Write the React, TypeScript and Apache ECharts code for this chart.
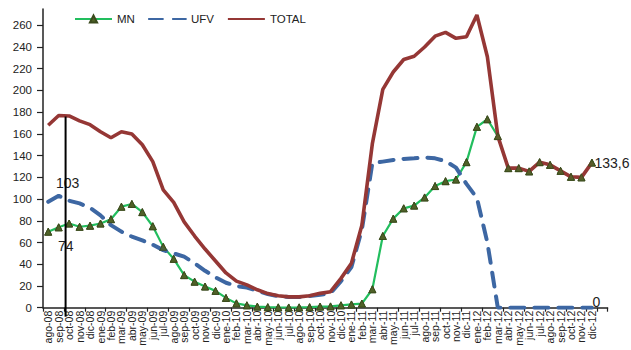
import React, { useEffect, useRef } from "react";
import * as echarts from "echarts";

const categories: string[] = [
  "ago-08", "sep-08", "oct-08", "nov-08", "dic-08",
  "ene-09", "feb-09", "mar-09", "abr-09", "may-09", "jun-09", "jul-09", "ago-09", "sep-09", "oct-09", "nov-09", "dic-09",
  "ene-10", "feb-10", "mar-10", "abr-10", "may-10", "jun-10", "jul-10", "ago-10", "sep-10", "oct-10", "nov-10", "dic-10",
  "ene-11", "feb-11", "mar-11", "abr-11", "may-11", "jun-11", "jul-11", "ago-11", "sep-11", "oct-11", "nov-11", "dic-11",
  "ene-12", "feb-12", "mar-12", "abr-12", "may-12", "jun-12", "jul-12", "ago-12", "sep-12", "oct-12", "nov-12", "dic-12",
  "",
];

const mnValues: number[] = [
  70, 74, 77.5, 74.5, 75.5,
  77.5, 81.5, 93, 95.5, 88, 75, 56, 45, 30, 24, 19.5, 15.5,
  9, 4, 2.2, 1, 0.5, 0.3, 0.2, 0.3, 0.5, 1, 1.2, 2.2,
  3, 3.8, 17, 66, 82, 91.5, 94, 101.5, 112, 116.5, 118, 134,
  166.5, 173.5, 158, 128.5, 128.5, 125.5, 134, 131.5, 126, 120.5, 120, 133.6,
];

const ufvValues: number[] = [
  97.5, 103, 98.5, 96, 92,
  85, 76, 70, 65.5, 62, 58, 53, 50, 47, 41, 34, 28,
  23, 20, 18.5, 15.5, 12.5, 10.5, 9.8, 9.8, 10.8, 11.8, 13.3, 24.5,
  37.5, 72, 133, 134.5, 136, 137, 137.5, 138.3, 137.5, 135, 129, 114,
  101, 60, 0, 0, 0, 0, 0, 0, 0, 0, 0, 0,
];

const totalValues: number[] = [
  168, 177, 176.5, 172, 168.5,
  162, 156.5, 162, 160, 150, 134.5, 108.5, 97, 79, 66, 54, 43,
  32, 24.5, 21, 16.5, 13, 11, 10, 10, 11, 13.2, 14.7, 27,
  41, 76, 151, 201, 217, 228.5, 231.5, 240, 250, 253.5, 248, 249.5,
  269.5, 231, 158, 128.5, 128.5, 125.5, 134, 131.5, 126, 120.5, 120, 133.6,
];

const yTicks = { min: 0, max: 275, interval: 20 };
const seriesNames = ["MN", "UFV", "TOTAL"];

// annotation: vertical drop line between sep-08 and oct-08
const dropLine = { from: "sep-08", to: "oct-08", fraction: 0.66, topValue: 176 };

const FONT = "'Liberation Sans', Arial, sans-serif";
const TEXT = "#222";
const GREEN = "#22BE5E";
const BLUE = "#3D67A3";
const RED = "#953735";
const OLIVE = "#4F6228";

const labelStyle = { fontFamily: FONT, fontSize: 14, color: TEXT };

export default function App() {
  const ref = useRef<HTMLDivElement>(null);

  useEffect(() => {
    if (!ref.current) return;
    const chart = echarts.init(ref.current, null, { renderer: "svg" });

    const mnData = mnValues.map((v, i) =>
      i === 1
        ? { value: v, label: { show: true, position: "bottom", distance: 5, offset: [7, 3], ...labelStyle } }
        : v
    );
    const ufvData = ufvValues.map((v, i) => {
      if (i === 1)
        return { value: v, label: { show: true, position: "top", distance: 5, offset: [9, 0], ...labelStyle } };
      if (i === ufvValues.length - 1)
        return { value: v, label: { show: true, position: "right", distance: 0, offset: [0, -6], ...labelStyle } };
      return v;
    });
    const totalData = totalValues.map((v, i) =>
      i === totalValues.length - 1
        ? {
            value: v,
            label: {
              show: true,
              position: "right",
              distance: 2,
              formatter: (p: any) => String(p.value).replace(".", ","),
              ...labelStyle,
            },
          }
        : v
    );

    chart.setOption({
      animation: false,
      textStyle: { fontFamily: FONT },
      grid: { left: 43, right: 23.4, top: 9, bottom: 42.3, containLabel: false },
      legend: {
        data: seriesNames,
        left: 74,
        top: 13,
        padding: 0,
        itemWidth: 37,
        itemHeight: 9,
        itemGap: 13,
        textStyle: { fontFamily: FONT, fontSize: 11.5, color: TEXT },
      },
      xAxis: {
        type: "category",
        data: categories,
        boundaryGap: true,
        axisLine: { show: true, lineStyle: { color: TEXT, width: 1.5 } },
        axisTick: { show: true, interval: 1, length: 4, lineStyle: { color: TEXT, width: 1.2 } },
        axisLabel: {
          interval: 0,
          rotate: 90,
          margin: 3,
          fontFamily: FONT,
          fontSize: 10.5,
          color: TEXT,
        },
        splitLine: { show: false },
      },
      yAxis: {
        type: "value",
        min: yTicks.min,
        max: yTicks.max,
        interval: yTicks.interval,
        axisLine: { show: true, lineStyle: { color: TEXT, width: 1.5 } },
        axisTick: { show: true, length: 6, lineStyle: { color: TEXT, width: 1.2 } },
        axisLabel: { showMaxLabel: false, margin: 11, fontFamily: FONT, fontSize: 11.5, color: TEXT },
        splitLine: { show: false },
      },
      series: [
        {
          name: "MN",
          type: "line",
          data: mnData,
          z: 2,
          symbol: "triangle",
          symbolSize: 7,
          showAllSymbol: true,
          lineStyle: { color: GREEN, width: 2.2 },
          itemStyle: { color: OLIVE, borderColor: "#3A4A1C", borderWidth: 1 },
        },
        {
          name: "UFV",
          type: "line",
          data: ufvData,
          z: 3,
          symbol: "circle",
          symbolSize: 1,
          showAllSymbol: true,
          lineStyle: { color: BLUE, width: 4, type: [14, 10], cap: "round" },
          itemStyle: { color: "transparent", borderWidth: 0 },
        },
        {
          name: "TOTAL",
          type: "line",
          data: totalData,
          z: 4,
          symbol: "circle",
          symbolSize: 1,
          showAllSymbol: true,
          lineStyle: { color: RED, width: 3.6 },
          itemStyle: { color: "transparent", borderWidth: 0 },
        },
        {
          name: "MN",
          type: "scatter",
          data: mnValues,
          z: 5,
          symbol: "triangle",
          symbolSize: 7,
          itemStyle: { color: OLIVE, borderColor: "#3A4A1C", borderWidth: 1 },
        },
      ],
    });

    const p1 = chart.convertToPixel({ xAxisIndex: 0 }, dropLine.from) as number;
    const p2 = chart.convertToPixel({ xAxisIndex: 0 }, dropLine.to) as number;
    const yTop = chart.convertToPixel({ yAxisIndex: 0 }, dropLine.topValue) as number;
    const yZero = chart.convertToPixel({ yAxisIndex: 0 }, 0) as number;
    const lx = p1 + (p2 - p1) * dropLine.fraction;
    chart.setOption({
      graphic: [
        {
          type: "line",
          z: 100,
          shape: { x1: lx, y1: yTop, x2: lx, y2: yZero + 9 },
          style: { stroke: "#000", lineWidth: 2 },
        },
      ],
    });

    return () => chart.dispose();
  }, []);

  return (
    <div
      ref={ref}
      style={{ position: "fixed", left: 0, top: 0, width: 631, height: 350, background: "#fff" }}
    />
  );
}
